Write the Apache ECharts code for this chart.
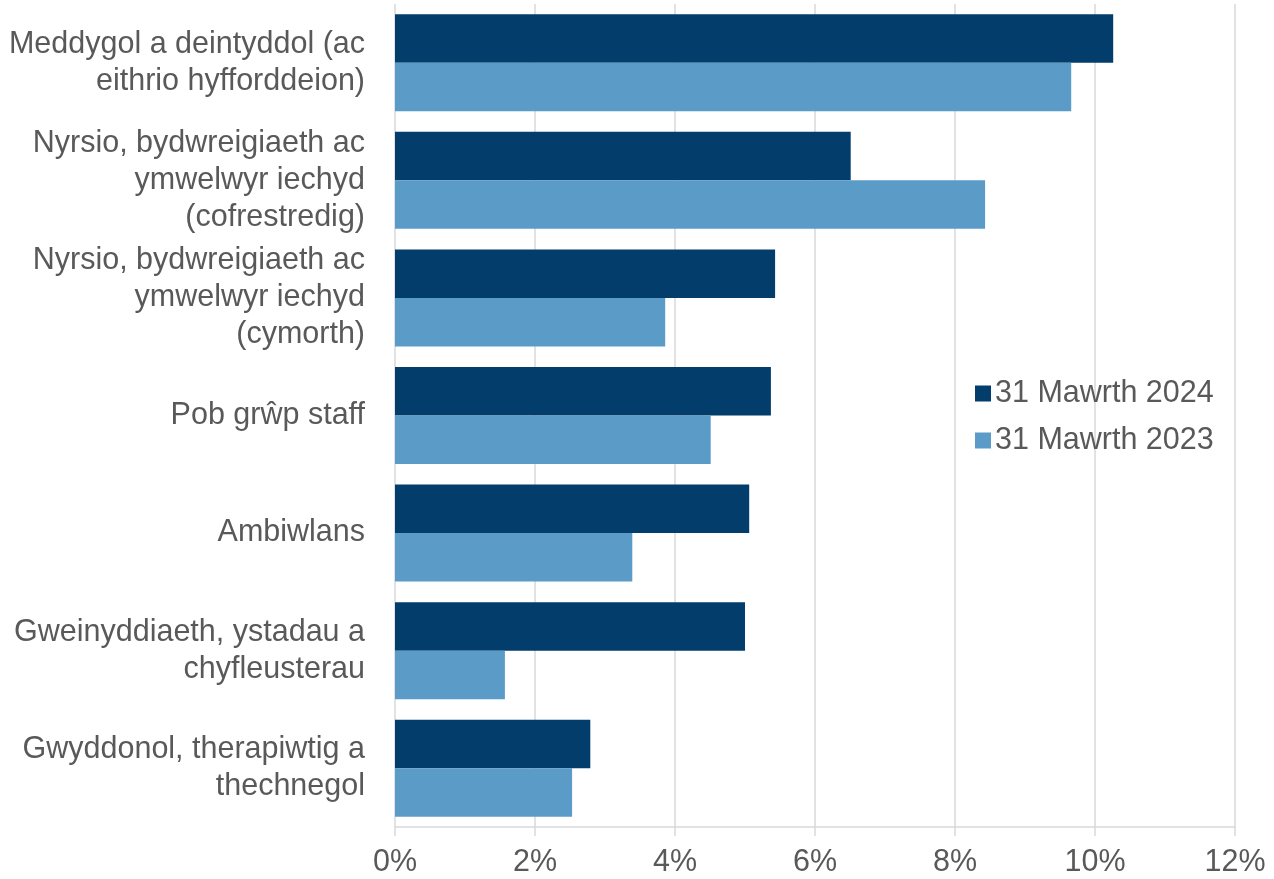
<!DOCTYPE html>
<html>
<head>
<meta charset="utf-8">
<script src="https://cdn.jsdelivr.net/npm/echarts@6/dist/echarts.min.js"></script>
<style>
  html, body { margin: 0; padding: 0; background: #fff; }
  #chart { width: 1274px; height: 879px; }
</style>
</head>
<body>
<div id="chart"></div>
<script>
// grwpiau staff, o'r brig i'r gwaelod
const categories = [
  'Meddygol a deintyddol (ac\neithrio hyfforddeion)',
  'Nyrsio, bydwreigiaeth ac\nymwelwyr iechyd\n(cofrestredig)',
  'Nyrsio, bydwreigiaeth ac\nymwelwyr iechyd\n(cymorth)',
  'Pob grŵp staff',
  'Ambiwlans',
  'Gweinyddiaeth, ystadau a\nchyfleusterau',
  'Gwyddonol, therapiwtig a\nthechnegol'
]
const seriesNames = ['31 Mawrth 2024', '31 Mawrth 2023']
const values2024 = [10.26, 6.51, 5.43, 5.37, 5.06, 5.0, 2.79]
const values2023 = [9.66, 8.43, 3.86, 4.51, 3.39, 1.57, 2.53]

const font = 'Arial, "Liberation Sans", sans-serif'
const textColor = '#595959'

const chart = echarts.init(document.getElementById('chart'))
chart.setOption({
  animation: false,
  grid: { left: 395, right: 39, top: 4, bottom: 52, containLabel: false },
  legend: {
    orient: 'vertical',
    left: 970,
    top: 373,
    itemWidth: 16,
    itemHeight: 16,
    itemGap: 16,
    icon: 'rect',
    textStyle: { fontSize: 30.5, color: textColor, fontFamily: font, padding: [0, 0, 0, -1] },
    data: seriesNames
  },
  xAxis: {
    type: 'value',
    min: 0,
    max: 12,
    interval: 2,
    axisLabel: {
      formatter: v => v + '%',
      fontSize: 30.5,
      color: textColor,
      fontFamily: font,
      margin: 20
    },
    axisLine: { show: true, lineStyle: { color: '#d9d9d9', width: 1.5 } },
    axisTick: { show: true, length: 9, lineStyle: { color: '#d9d9d9', width: 1.5 } },
    splitLine: { show: true, lineStyle: { color: '#d9d9d9', width: 1.5 } }
  },
  yAxis: {
    type: 'category',
    inverse: true,
    data: categories,
    axisLine: { show: false },
    axisTick: { show: false },
    axisLabel: {
      fontSize: 30.5,
      lineHeight: 37,
      color: textColor,
      fontFamily: font,
      align: 'right',
      margin: 30
    }
  },
  series: [
    {
      name: seriesNames[0],
      type: 'bar',
      data: values2024,
      barGap: '0%',
      barCategoryGap: '17.5%',
      itemStyle: { color: '#023d6b' }
    },
    {
      name: seriesNames[1],
      type: 'bar',
      data: values2023,
      barGap: '0%',
      barCategoryGap: '17.5%',
      itemStyle: { color: '#5b9bc8' }
    }
  ]
})
</script>
</body>
</html>
